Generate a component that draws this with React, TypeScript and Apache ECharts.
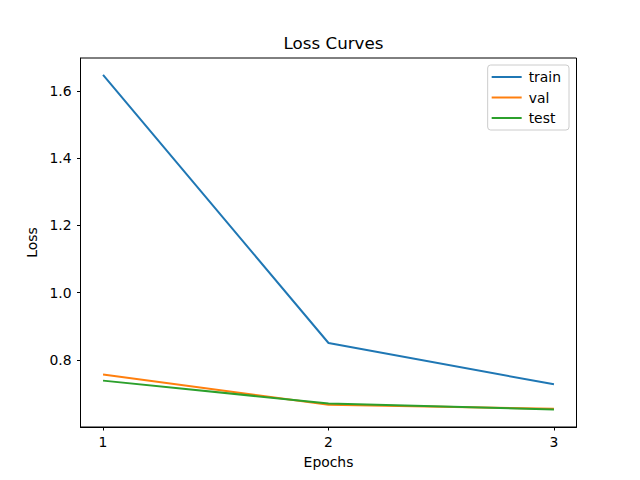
import React, { useEffect, useRef } from "react";
import * as echarts from "echarts";

const epochs = [1, 2, 3];
const trainLoss = [1.648, 0.85, 0.727];
const valLoss = [0.756, 0.666, 0.654];
const testLoss = [0.738, 0.67, 0.652];
const yTicks = [0.8, 1.0, 1.2, 1.4, 1.6];
const xTicks = [1, 2, 3];

const FONT = "DejaVu Sans";

export default function App() {
  const ref = useRef<HTMLDivElement>(null);
  useEffect(() => {
    if (!ref.current) return;
    const chart = echarts.init(ref.current, undefined, { renderer: "svg" });
    const mk = (name: string, vals: number[], color: string) => ({
      name,
      type: "line",
      data: epochs.map((e, i) => [e, vals[i]]),
      symbol: "none",
      lineStyle: { color, width: 2 },
      itemStyle: { color },
      z: 2,
    });
    chart.setOption({
      animation: false,
      backgroundColor: "#ffffff",
      textStyle: { fontFamily: FONT },
      title: {
        text: "Loss Curves",
        left: 328.5,
        textAlign: "center",
        top: 29,
        textStyle: { fontFamily: FONT, fontSize: 16.7, fontWeight: "normal", color: "#000" },
      },
      grid: {
        left: 80.5,
        right: 63.5,
        top: 58,
        bottom: 53,
        show: true,
        borderColor: "#000",
        borderWidth: 1,
        backgroundColor: "transparent",
      },
      legend: {
        orient: "vertical",
        right: 71,
        top: 65,
        itemWidth: 30,
        itemHeight: 2,
        itemGap: 6.5,
        icon: "rect",
        padding: [5, 8, 5, 4],
        borderColor: "#cccccc",
        borderWidth: 1,
        borderRadius: 3,
        backgroundColor: "rgba(255,255,255,0.8)",
        textStyle: { fontFamily: FONT, fontSize: 13.9, color: "#000", padding: [0, 0, 0, 2] },
        data: ["train", "val", "test"],
      },
      xAxis: {
        type: "value",
        min: 0.9,
        max: 3.1,
        name: "Epochs",
        nameLocation: "middle",
        nameGap: 28,
        nameTextStyle: { fontFamily: FONT, fontSize: 13.9, color: "#000" },
        splitLine: { show: false },
        axisLine: { show: true, lineStyle: { color: "#000", width: 1 } },
        axisTick: { show: true, length: 3.5, lineStyle: { color: "#000" }, customValues: xTicks },
        axisLabel: {
          customValues: xTicks,
          margin: 8,
          fontFamily: FONT,
          fontSize: 13.9,
          color: "#000",
          formatter: (v: number) => String(v),
        },
      },
      yAxis: {
        type: "value",
        min: 0.6,
        max: 1.698,
        name: "Loss",
        nameLocation: "middle",
        nameGap: 40,
        nameRotate: 90,
        nameTextStyle: { fontFamily: FONT, fontSize: 13.9, color: "#000" },
        splitLine: { show: false },
        axisLine: { show: true, lineStyle: { color: "#000", width: 1 } },
        axisTick: { show: true, length: 3.5, lineStyle: { color: "#000" }, customValues: yTicks },
        axisLabel: {
          customValues: yTicks,
          margin: 9,
          fontFamily: FONT,
          fontSize: 13.9,
          color: "#000",
          formatter: (v: number) => v.toFixed(1),
        },
      },
      series: [
        mk("train", trainLoss, "#1f77b4"),
        mk("val", valLoss, "#ff7f0e"),
        mk("test", testLoss, "#2ca02c"),
      ],
    });
    return () => chart.dispose();
  }, []);
  return <div ref={ref} style={{ width: 640, height: 480, position: "absolute", left: 0, top: 0 }} />;
}
